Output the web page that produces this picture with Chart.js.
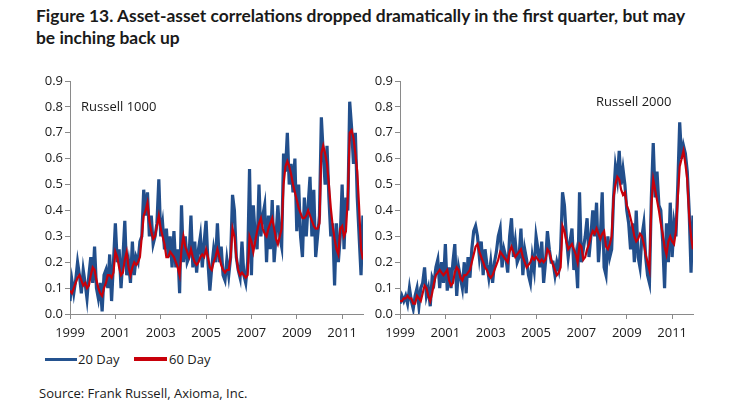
<!doctype html>
<html lang="en">
<head>
<meta charset="utf-8">
<script src="https://cdn.jsdelivr.net/npm/chart.js@4.4.0/dist/chart.umd.min.js"></script>
<style>
  body { margin: 0; width: 746px; height: 408px; background: #fff; position: relative; overflow: hidden; font-family: "Open Sans", sans-serif; color: #1a1a1a; }
  #title { position: absolute; left: 36px; top: 5px; font: bold 17.4px Lato, sans-serif; line-height: 21.6px; white-space: nowrap; }
  .lbl { position: absolute; font-size: 13px; line-height: 16px; white-space: nowrap; }
  .key { position: absolute; height: 3px; top: 358px; }
  #c1 { position: absolute; left: 0; top: 60px; }
  #c2 { position: absolute; left: 366px; top: 60px; }
</style>
</head>
<body>
  <div id="title">Figure 13. Asset-asset correlations dropped dramatically in the first quarter, but may<br>be inching back up</div>
  <canvas id="c1" width="366" height="284"></canvas>
  <canvas id="c2" width="380" height="284"></canvas>
  <div class="lbl" style="left:81px; top:98px;">Russell 1000</div>
  <div class="lbl" style="left:596px; top:93px;">Russell 2000</div>
  <div class="key" style="left:45px; width:32px; background:#24528f;"></div>
  <div class="lbl" style="left:78px; top:351px;">20 Day</div>
  <div class="key" style="left:134px; width:33px; background:#c8000a; height:4px; top:357px;"></div>
  <div class="lbl" style="left:169px; top:351px;">60 Day</div>
  <div class="lbl" style="left:39px; top:385px;">Source: Frank Russell, Axioma, Inc.</div>

<script>
  // monthly observations, Jan 1999 .. Dec 2011
  const months = Array.from({ length: 156 }, (_, i) => 1999 + i / 12);
  const yearTicks = [1999, 2001, 2003, 2005, 2007, 2009, 2011];

  // Russell 1000
  const r1000_20 = [
    0.05, 0.13, 0.08, 0.13, 0.20, 0.15, 0.08, 0.17, 0.12, 0.06, 0.15, 0.22,
    0.12, 0.26, 0.10, 0.06, 0.12, 0.01, 0.15, 0.17, 0.10, 0.23, 0.05, 0.20,
    0.35, 0.20, 0.25, 0.10, 0.22, 0.36, 0.15, 0.20, 0.12, 0.28, 0.15, 0.22,
    0.20, 0.28, 0.30, 0.48, 0.38, 0.47, 0.30, 0.38, 0.27, 0.30, 0.35, 0.52,
    0.30, 0.35, 0.25, 0.33, 0.22, 0.30, 0.18, 0.32, 0.18, 0.25, 0.08, 0.42,
    0.20, 0.30, 0.20, 0.22, 0.38, 0.18, 0.28, 0.16, 0.25, 0.30, 0.18, 0.28,
    0.36, 0.20, 0.09, 0.18, 0.25, 0.20, 0.35, 0.20, 0.26, 0.15, 0.13, 0.21,
    0.15, 0.22, 0.46, 0.40, 0.22, 0.17, 0.14, 0.28, 0.15, 0.12, 0.20, 0.56,
    0.15, 0.42, 0.30, 0.25, 0.50, 0.30, 0.38, 0.42, 0.20, 0.38, 0.25, 0.44,
    0.20, 0.30, 0.42, 0.30, 0.26, 0.62, 0.55, 0.70, 0.50, 0.58, 0.47, 0.60,
    0.32, 0.50, 0.30, 0.22, 0.45, 0.30, 0.42, 0.53, 0.30, 0.48, 0.22, 0.30,
    0.38, 0.76, 0.62, 0.50, 0.65, 0.45, 0.30, 0.35, 0.11, 0.35, 0.20, 0.30,
    0.50, 0.25, 0.45, 0.40, 0.82, 0.72, 0.58, 0.70, 0.45, 0.30, 0.15, 0.38
  ];
  const r1000_60 = [
    0.09, 0.08, 0.10, 0.12, 0.14, 0.15, 0.13, 0.11, 0.12, 0.10, 0.11, 0.15,
    0.18, 0.17, 0.13, 0.10, 0.08, 0.07, 0.10, 0.12, 0.15, 0.15, 0.14, 0.16,
    0.24, 0.22, 0.18, 0.15, 0.16, 0.21, 0.24, 0.18, 0.15, 0.18, 0.20, 0.19,
    0.20, 0.22, 0.30, 0.38, 0.40, 0.43, 0.36, 0.32, 0.29, 0.30, 0.34, 0.38,
    0.33, 0.30, 0.27, 0.22, 0.22, 0.24, 0.23, 0.22, 0.20, 0.18, 0.15, 0.25,
    0.30, 0.26, 0.24, 0.22, 0.25, 0.22, 0.20, 0.19, 0.20, 0.22, 0.23, 0.22,
    0.25, 0.22, 0.18, 0.17, 0.20, 0.22, 0.25, 0.22, 0.19, 0.17, 0.16, 0.17,
    0.17, 0.22, 0.33, 0.30, 0.22, 0.17, 0.15, 0.16, 0.15, 0.14, 0.15, 0.30,
    0.28, 0.24, 0.28, 0.32, 0.35, 0.37, 0.33, 0.31, 0.30, 0.33, 0.35, 0.37,
    0.33, 0.29, 0.27, 0.30, 0.33, 0.50, 0.57, 0.59, 0.57, 0.54, 0.50, 0.47,
    0.44, 0.41, 0.39, 0.37, 0.37, 0.38, 0.40, 0.38, 0.36, 0.34, 0.33, 0.33,
    0.35, 0.62, 0.65, 0.62, 0.58, 0.50, 0.41, 0.34, 0.29, 0.25, 0.23, 0.33,
    0.34, 0.30, 0.32, 0.45, 0.70, 0.71, 0.68, 0.62, 0.55, 0.41, 0.25, 0.21
  ];

  // Russell 2000
  const r2000_20 = [
    0.04, 0.07, 0.05, 0.07, 0.04, 0.10, 0.05, 0.02, 0.07, 0.10, 0.03, 0.10,
    0.12, 0.18, 0.07, 0.10, 0.03, 0.14, 0.12, 0.18, 0.21, 0.10, 0.20, 0.12,
    0.27, 0.09, 0.18, 0.10, 0.20, 0.27, 0.07, 0.18, 0.14, 0.10, 0.20, 0.08,
    0.22, 0.14, 0.25, 0.32, 0.34, 0.30, 0.22, 0.28, 0.15, 0.25, 0.19, 0.14,
    0.20, 0.12, 0.20, 0.24, 0.30, 0.33, 0.18, 0.25, 0.22, 0.16, 0.30, 0.37,
    0.22, 0.28, 0.20, 0.22, 0.33, 0.15, 0.25, 0.21, 0.15, 0.12, 0.22, 0.17,
    0.30, 0.25, 0.18, 0.28, 0.12, 0.20, 0.32, 0.25, 0.20, 0.20, 0.15, 0.20,
    0.17, 0.25, 0.47, 0.42, 0.30, 0.22, 0.28, 0.33, 0.17, 0.22, 0.10, 0.47,
    0.20, 0.25, 0.30, 0.37, 0.22, 0.30, 0.40, 0.30, 0.43, 0.20, 0.30, 0.47,
    0.18, 0.15, 0.30, 0.22, 0.25, 0.45, 0.57, 0.52, 0.63, 0.50, 0.56, 0.50,
    0.40, 0.35, 0.25, 0.35, 0.20, 0.40, 0.22, 0.18, 0.30, 0.35, 0.22, 0.15,
    0.12, 0.45, 0.66, 0.45, 0.55, 0.42, 0.40, 0.28, 0.10, 0.35, 0.20, 0.43,
    0.22, 0.35, 0.30, 0.50, 0.74, 0.60, 0.65, 0.62, 0.55, 0.40, 0.16, 0.38
  ];
  const r2000_60 = [
    0.05, 0.05, 0.06, 0.06, 0.07, 0.06, 0.06, 0.04, 0.04, 0.07, 0.06, 0.05,
    0.08, 0.11, 0.10, 0.07, 0.05, 0.08, 0.12, 0.15, 0.16, 0.17, 0.16, 0.15,
    0.16, 0.17, 0.13, 0.11, 0.12, 0.16, 0.18, 0.17, 0.14, 0.13, 0.15, 0.15,
    0.16, 0.17, 0.20, 0.23, 0.26, 0.27, 0.24, 0.22, 0.20, 0.18, 0.17, 0.15,
    0.14, 0.15, 0.17, 0.19, 0.21, 0.24, 0.23, 0.22, 0.21, 0.20, 0.24, 0.26,
    0.24, 0.22, 0.23, 0.24, 0.25, 0.22, 0.20, 0.18, 0.19, 0.20, 0.22, 0.21,
    0.22, 0.21, 0.20, 0.21, 0.20, 0.21, 0.25, 0.24, 0.21, 0.19, 0.17, 0.15,
    0.16, 0.18, 0.34, 0.32, 0.28, 0.25, 0.26, 0.27, 0.25, 0.23, 0.20, 0.27,
    0.26, 0.21, 0.22, 0.25, 0.27, 0.30, 0.32, 0.31, 0.33, 0.31, 0.29, 0.31,
    0.32, 0.26, 0.25, 0.27, 0.30, 0.45, 0.50, 0.53, 0.52, 0.48, 0.46, 0.47,
    0.42, 0.40, 0.37, 0.34, 0.30, 0.28, 0.29, 0.31, 0.30, 0.27, 0.23, 0.20,
    0.17, 0.42, 0.52, 0.48, 0.44, 0.40, 0.35, 0.31, 0.26, 0.23, 0.28, 0.30,
    0.28, 0.27, 0.32, 0.45, 0.57, 0.60, 0.63, 0.58, 0.52, 0.38, 0.30, 0.25
  ];

  const axisColor = '#8a8a8a';
  const tickFont = { family: 'Open Sans', size: 13 };

  function makeChart(id, d20, d60, yWidth, padRight) {
    return new Chart(document.getElementById(id), {
      type: 'line',
      data: {
        labels: months,
        datasets: [
          { label: '60 Day', data: d60, borderColor: '#c8000a', borderWidth: 2.2, pointRadius: 0, tension: 0 },
          { label: '20 Day', data: d20, borderColor: '#224f8c', borderWidth: 3.2, pointRadius: 0, tension: 0 }
        ]
      },
      options: {
        responsive: false,
        animation: false,
        events: [],
        layout: { padding: { top: 21, right: padRight, bottom: 0, left: 0 } },
        plugins: { legend: { display: false }, tooltip: { enabled: false } },
        scales: {
          x: {
            type: 'linear',
            min: 1999,
            max: 2011.92,
            afterBuildTicks: s => { s.ticks = yearTicks.map(v => ({ value: v })); },
            afterFit: s => { s.height = 30; },
            grid: { display: true, drawOnChartArea: false, tickLength: 5, color: axisColor },
            border: { display: true, color: axisColor },
            ticks: { color: '#1a1a1a', font: tickFont, padding: 6, maxRotation: 0, autoSkip: false,
                     callback: v => String(v) }
          },
          y: {
            min: 0,
            max: 0.9,
            afterFit: s => { s.width = yWidth; },
            grid: { display: true, drawOnChartArea: false, tickLength: 5, color: axisColor },
            border: { display: true, color: axisColor },
            ticks: { stepSize: 0.1, color: '#1a1a1a', font: tickFont, padding: 2,
                     callback: v => v.toFixed(1) }
          }
        }
      }
    });
  }

  makeChart('c1', r1000_20, r1000_60, 70, 3);
  makeChart('c2', r2000_20, r2000_60, 34, 53);
</script>
</body>
</html>
